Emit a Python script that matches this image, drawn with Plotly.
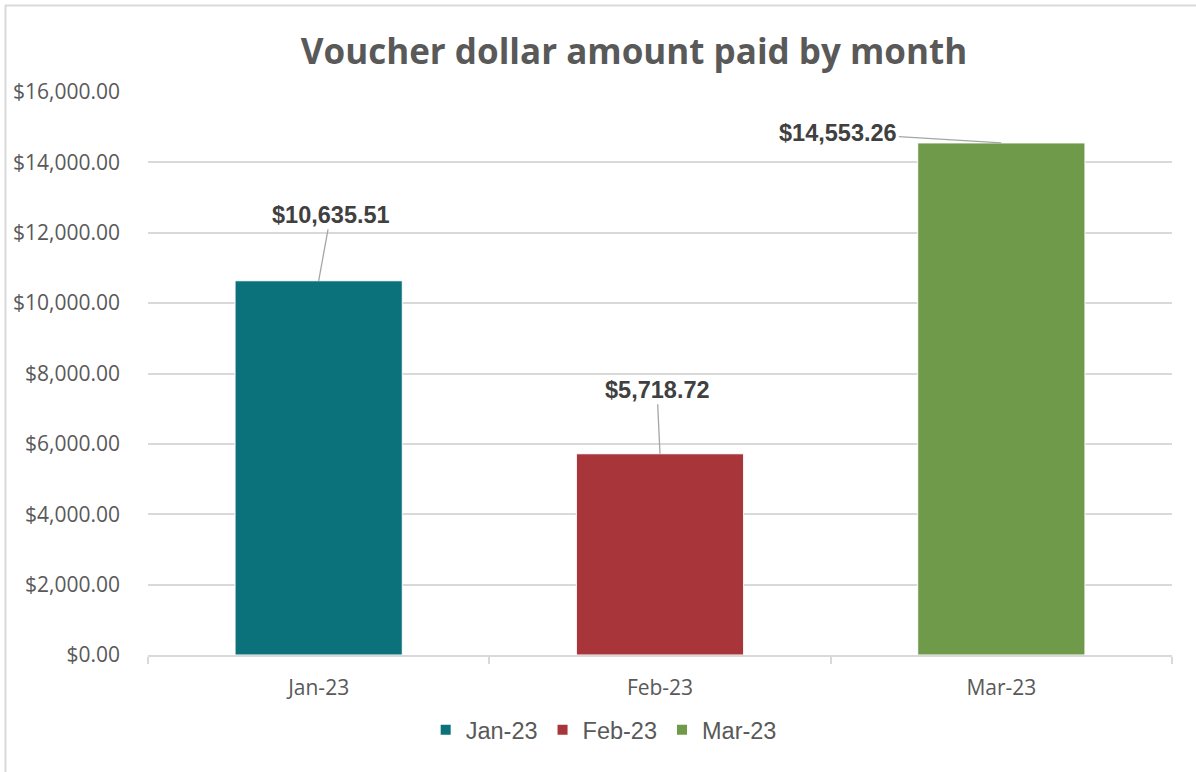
import plotly.graph_objects as go

months = ["Jan-23", "Feb-23", "Mar-23"]
amounts = [10635.51, 5718.72, 14553.26]
colors = ["#0B727C", "#A8353A", "#6F9A4A"]
label_offsets = [(12, -66), (-3, -64), (-163, -10)]  # label position relative to bar top (px)
y_ticks = [0, 2000, 4000, 6000, 8000, 10000, 12000, 14000, 16000]

W, H = 1196, 772
ML, MR, MT, MB = 148, 24, 92, 117
PW, PH = W - ML - MR, H - MT - MB

fig = go.Figure()
for m, v, c in zip(months, amounts, colors):
    fig.add_trace(go.Bar(
        x=[m], y=[v], name=m, marker=dict(color=c, line=dict(color="#FFFFFF", width=1)),
        width=0.49,
    ))

for m, v, (ax, ay) in zip(months, amounts, label_offsets):
    fig.add_annotation(
        x=m, y=v, text=f"<b>${v:,.2f}</b>", showarrow=True, arrowhead=0,
        arrowwidth=1.3, arrowcolor="#A6A6A6", ax=ax, ay=ay, standoff=0,
        font=dict(family="Liberation Sans, Arial", size=23.5, color="#404040"),
    )

# chart-area border (top and left edges)
def px_x(p):
    return (p - ML) / PW

def px_y(q):
    return (H - MB - q) / PH

fig.add_shape(type="line", xref="paper", yref="paper",
              x0=px_x(5), x1=px_x(W + 5), y0=px_y(5.5), y1=px_y(5.5),
              line=dict(color="#D9D9D9", width=2))
fig.add_shape(type="line", xref="paper", yref="paper",
              x0=px_x(5.5), x1=px_x(5.5), y0=px_y(5), y1=px_y(H + 5),
              line=dict(color="#D9D9D9", width=2))

fig.update_layout(
    width=W, height=H,
    margin=dict(l=ML, r=MR, t=MT, b=MB, autoexpand=False),
    paper_bgcolor="white", plot_bgcolor="white",
    barmode="overlay",
    title=dict(text="<b>Voucher dollar amount paid by month</b>",
               x=634 / W, xref="container", xanchor="center",
               y=1 - 52 / H, yref="container", yanchor="middle",
               font=dict(family="Open Sans", size=35, color="#595959")),
    showlegend=True,
    legend=dict(orientation="h", x=0.445, xanchor="center", xref="paper",
                y=1 - 730 / H, yref="container", yanchor="middle",
                font=dict(family="Liberation Sans, Arial", size=23.5, color="#595959"),
                itemsizing="constant"),
    xaxis=dict(type="category", showgrid=False, showline=True, linecolor="#D9D9D9",
               linewidth=1.5, ticks="outside", tickson="boundaries", ticklen=7,
               tickcolor="#D9D9D9", tickwidth=1.5, ticklabelstandoff=13, automargin=False,
               tickfont=dict(family="Open Sans", size=21, color="#595959")),
    yaxis=dict(range=[0, 16000], tickvals=y_ticks,
               ticktext=[f"${t:,.2f}" for t in y_ticks],
               showgrid=True, gridcolor="#D9D9D9", gridwidth=1.5, zeroline=False,
               showline=False, ticks="", ticklabelstandoff=27, automargin=False,
               tickfont=dict(family="Open Sans", size=21, color="#595959")),
)

fig.write_html("out.html", config={"displayModeBar": False},
               post_script="document.body.style.margin='0';")
